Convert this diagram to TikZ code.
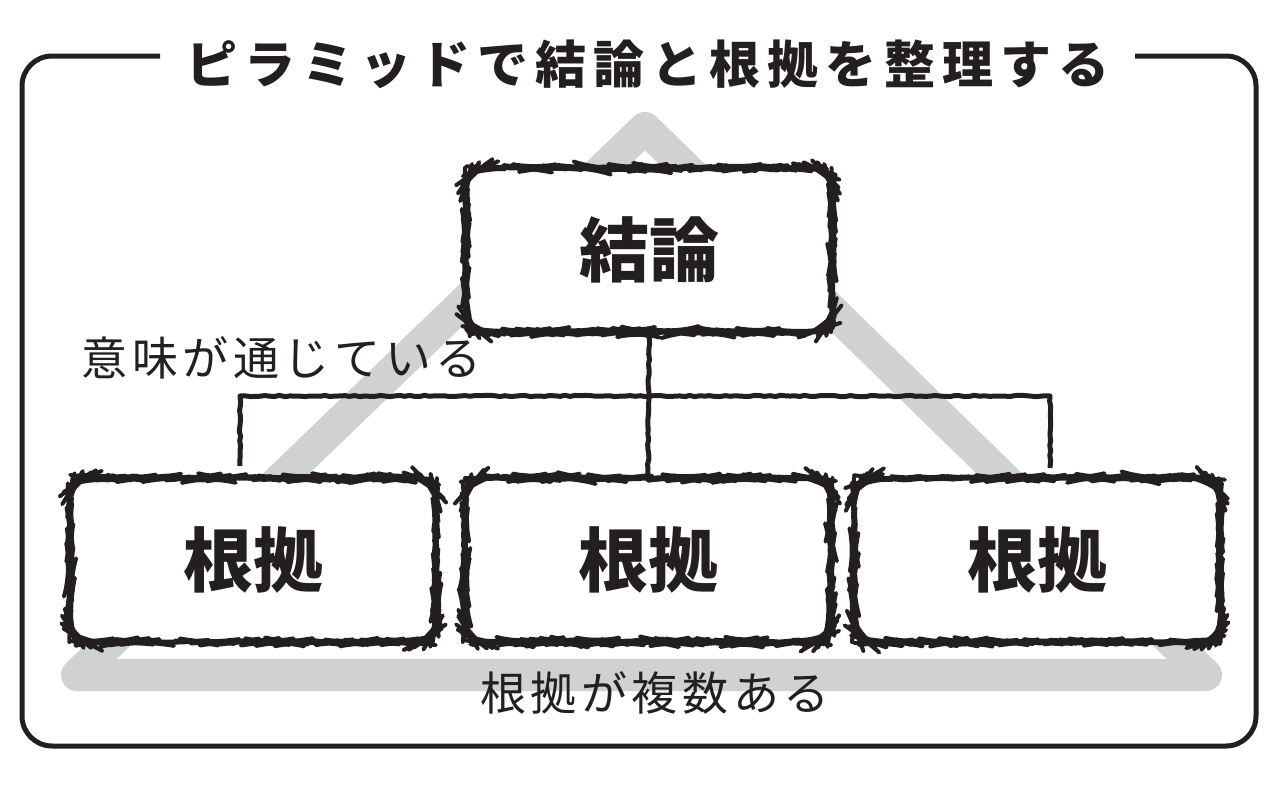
\documentclass[tikz,border=0pt]{standalone}
\usepackage{fontspec}
\newfontfamily\jp{Noto Sans CJK JP}
\usetikzlibrary{decorations.pathmorphing}
\usetikzlibrary{positioning}
\definecolor{pyrgray}{RGB}{207,209,210}
\definecolor{ink}{RGB}{35,31,32}

\begin{document}
\begin{tikzpicture}[x=1pt,y=-1pt,
    box/.style={draw=ink, fill=white, line width=4pt, line join=round, rounded corners=22pt,
        minimum width=366pt, minimum height=164pt,
        decorate, decoration={random steps,segment length=5pt,amplitude=0.8pt}},
    rough/.style={draw=ink, line width=5pt, line join=round,
        decorate, decoration={random steps,segment length=5pt,amplitude=0.7pt}},
    big/.style={text=ink, font=\jp\bfseries\fontsize{70}{80}\selectfont},
    note/.style={text=ink, font=\jp\fontsize{46}{52}\selectfont\addfontfeature{LetterSpace=10}}]
    \useasboundingbox (0,0) rectangle (1280,790);

    % frame and title
    \node[text=ink, font=\jp\bfseries\fontsize{51}{60}\selectfont\addfontfeature{LetterSpace=14}] (title) at (648,64) {ピラミッドで結論と根拠を整理する};
    \coordinate (fl) at (160,56);
    \coordinate (fr) at (1135,56);
    \draw[ink, line width=5pt, rounded corners=30pt] (fl) -| (22,746) -| (1256,56) -- (fr);

    % gray pyramid behind
    \draw[pyrgray, line width=32pt, line join=round] (645,128) -- (77,675) -- (1206,675) -- cycle;

    \node[box] (concl) at (649,250) {};
    \node[box] (r1) at (253,560) {};
    \node[box] (r2) at (648,560) {};
    \node[box] (r3) at (1037,560) {};

    % tree lines
    \draw[rough] (concl.south) -- (r2.north);
    \draw[rough] ([shift={(-13,-10)}]r1.north) |- ([shift={(13,-80)}]r3.north) -- ([shift={(13,-8)}]r3.north);

    \node[big] at (concl) {結論};
    \node[big] at (r1) {根拠};
    \node[big] at (r2) {根拠};
    \node[big] at (r3) {根拠};

    \node[note, anchor=west] (sense) at (78,358) {意味が通じている};
    \node[note] (many) at (655,693) {根拠が複数ある};
\end{tikzpicture}
\end{document}
